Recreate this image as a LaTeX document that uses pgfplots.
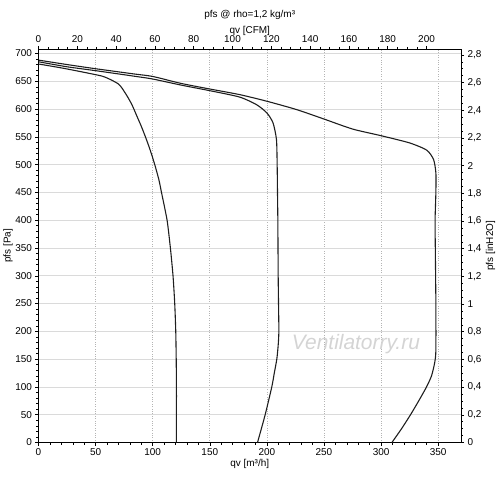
\documentclass[border=0pt]{standalone}
\usepackage{pgfplots}
\pgfplotsset{compat=1.18}
\usepackage{fontspec}
\setmainfont{Liberation Sans}
\definecolor{gridh}{HTML}{DADADA}
\definecolor{gridv}{HTML}{B4B4B4}
\definecolor{curve}{HTML}{1E1E1E}
\begin{document}
\fontsize{10}{12}\selectfont
\begin{tikzpicture}
\pgfplotsset{
  every axis/.append style={
    scale only axis, width=422.5bp, height=393.5bp,
    at={(0,0)}, anchor=south west,
    tick align=outside,
    major tick length=3bp, minor tick length=2bp,
    tick style={black, line width=0.5pt},
    /pgf/number format/assume math mode=true,
    tick label style={font=\fontsize{10}{12}\selectfont},
    label style={font=\fontsize{10}{12}\selectfont},
    axis line style={line width=0.8pt, black},
  }
}
\begin{axis}[
  xmin=0, xmax=370, ymin=0, ymax=708,
  xtick={0,50,...,350}, ytick={0,50,...,700},
  minor x tick num=4, minor y tick num=4,
  xtick pos=bottom, ytick pos=left,
  xmajorgrids, ymajorgrids,
  x grid style={gridv, dotted, line width=0.6pt},
  y grid style={gridh, line width=0.6pt},
  /pgf/number format/set thousands separator={},
  every axis x label/.style={at={(axis description cs:0.5,-0.0534)}, anchor=center},
  every axis y label/.style={at={(axis description cs:-0.0722,0.5)}, rotate=90, anchor=center},
  xlabel={qv [m³/h]}, ylabel={pfs [Pa]},
]
\node[font=\fontsize{21}{24}\selectfont\itshape, text=black!17] at (axis cs:278,177) {Ventilatorry.ru};
\addplot[curve, line width=1.1pt, smooth, tension=0.4] coordinates {
(0,681) (20,674) (40,666) (56,659) (64,652) (70,645) (73,638) (78,622) (82,607) (86,588) (90,569) (94,548) (98,525) (101.8,500) (105.4,473) (107.7,450) (112.6,400) (115.5,350) (117.8,300) (119.3,250) (120.2,200) (120.6,150) (120.8,100) (120.8,50) (120.8,0)
};
\addplot[curve, line width=1.1pt, smooth, tension=0.4] coordinates {
(0,685) (25,676) (50,669) (84,659) (100,654) (125,643) (150,633) (176,621.6) (191,607.8) (200,593) (205.4,575) (208.4,545) (209,500) (209.3,450) (209.6,400) (209.9,300) (210.2,250) (210.5,200) (209.9,175) (208.7,150) (206.5,125) (204.3,100) (198.5,50) (191.8,0)
};
\addplot[curve, line width=1.1pt, smooth, tension=0.4] coordinates {
(0,688) (25,680) (50,672.5) (84,663) (100,658.6) (125,646) (150,636) (176,626) (200,614) (226,599) (250,582) (275,564) (300,552) (325,539) (340,526) (346,509) (348,485) (348,450) (347.3,400) (347.5,350) (348,250) (348,166) (347,144) (344.2,120) (339.8,100) (333,75) (325.8,50) (318,25) (309.5,0)
};
\end{axis}
\begin{axis}[
  xmin=0, xmax=217.77, ymin=0, ymax=2.8424,
  axis x line*=top, axis y line*=right,
  xtick={0,20,...,200}, ytick={0,0.2,...,2.81},
  minor x tick num=3, minor y tick num=3,
  /pgf/number format/use comma,
  /pgf/number format/fixed,
  every axis x label/.style={at={(axis description cs:0.5,1.0457)}, anchor=center},
  every axis y label/.style={at={(axis description cs:1.0698,0.5)}, rotate=90, anchor=center},
  xlabel={qv [CFM]}, ylabel={pfs [inH2O]},
  title={pfs @ rho=1,2 kg/m³},
  every axis title/.style={at={(axis description cs:0.5,1.0877)}, anchor=center, font=\fontsize{10}{12}\selectfont},
]
\end{axis}
\pgfresetboundingbox
\path[use as bounding box] (-38.5bp,-40.5bp) rectangle (461.5bp,442.5bp);
\end{tikzpicture}
\end{document}
